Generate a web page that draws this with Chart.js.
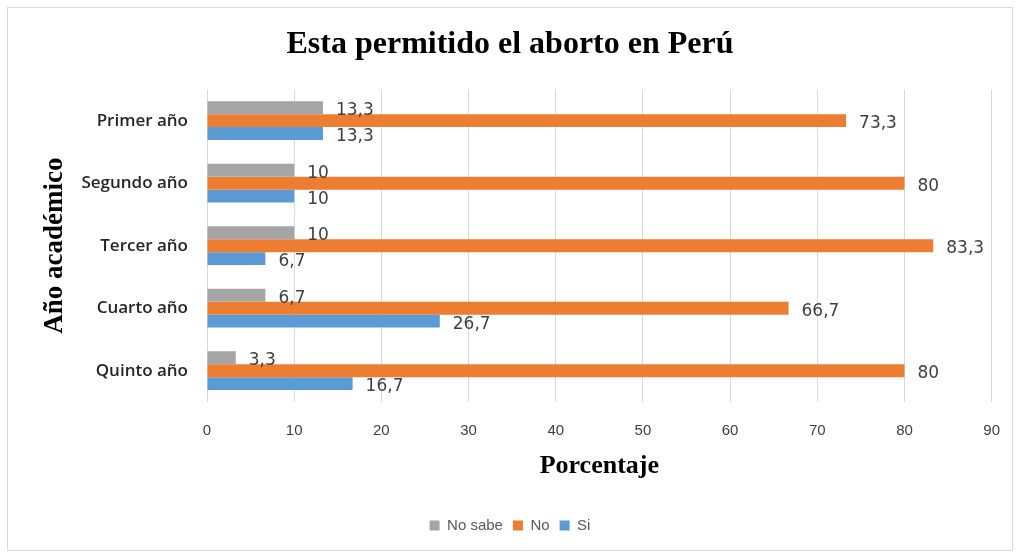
<!DOCTYPE html>
<html>
<head>
<meta charset="utf-8">
<script src="https://cdn.jsdelivr.net/npm/chart.js@4"></script>
<style>
  html, body { margin: 0; padding: 0; background: #fff; }
  #wrap { width: 1020px; height: 558px; }
</style>
</head>
<body>
<div id="wrap"><canvas id="myChart" width="1020" height="558"></canvas></div>
<script>
const categories = ['Primer año', 'Segundo año', 'Tercer año', 'Cuarto año', 'Quinto año'];
const noSabe = [13.3, 10, 10, 6.7, 3.3];
const no = [73.3, 80, 83.3, 66.7, 80];
const si = [13.3, 10, 6.7, 26.7, 16.7];
const xTicks = [0, 10, 20, 30, 40, 50, 60, 70, 80, 90];

const ctx = document.getElementById('myChart').getContext('2d');
const myChart = new Chart(ctx, {
    type: 'bar',
    data: {
        labels: categories,
        datasets: [
            { label: 'No sabe', data: noSabe, backgroundColor: '#A5A5A5' },
            { label: 'No', data: no, backgroundColor: '#ED7D31' },
            { label: 'Si', data: si, backgroundColor: '#5B9BD5' }
        ]
    },
    options: {
        indexAxis: 'y',
        responsive: false,
        animation: false,
        barPercentage: 1.0,
        categoryPercentage: 0.62,
        layout: {
            padding: { left: 27, right: 27, top: 0, bottom: 15 }
        },
        scales: {
            x: {
                min: 0,
                max: 90,
                afterBuildTicks: (scale) => {
                    scale.ticks = xTicks.map(v => ({ value: v }));
                },
                afterFit: (scale) => { scale.height = 106; },
                grid: { color: '#d9d9d9', drawTicks: false },
                border: { display: false },
                ticks: {
                    padding: 20,
                    color: '#404040',
                    font: { family: 'Liberation Sans', size: 15 }
                },
                title: {
                    display: true,
                    text: 'Porcentaje',
                    color: '#000',
                    padding: { top: 0, bottom: 26 },
                    font: { family: 'Liberation Serif', size: 26, weight: 'bold' }
                }
            },
            y: {
                afterFit: (scale) => { scale.width = 180; },
                grid: { display: false },
                border: { display: false },
                ticks: {
                    padding: 11,
                    color: '#262626',
                    font: { family: 'Open Sans', size: 17, weight: '600' }
                },
                title: {
                    display: true,
                    text: 'Año académico',
                    color: '#000',
                    padding: { top: 12, bottom: 0 },
                    font: { family: 'Liberation Serif', size: 27, weight: 'bold' }
                }
            }
        },
        plugins: {
            title: {
                display: true,
                text: 'Esta permitido el aborto en Perú',
                color: '#000',
                padding: { top: 26, bottom: 25 },
                font: { family: 'Liberation Serif', size: 32, weight: 'bold' }
            },
            legend: {
                position: 'bottom',
                labels: {
                    boxWidth: 10,
                    boxHeight: 10,
                    padding: 10,
                    color: '#595959',
                    font: { family: 'Liberation Sans', size: 15 }
                }
            },
            tooltip: { enabled: false }
        }
    },
    plugins: [{
        id: 'background-colour',
        beforeDraw: (chart) => {
            const c = chart.ctx;
            c.save();
            c.fillStyle = 'white';
            c.fillRect(0, 0, chart.width, chart.height);
            c.strokeStyle = '#d9d9d9';
            c.lineWidth = 1;
            c.strokeRect(7.5, 7.5, 1005, 543);
            c.restore();
        }
    }, {
        id: 'bar-values',
        afterDatasetsDraw: (chart) => {
            const c = chart.ctx;
            c.save();
            c.font = '17px "DejaVu Sans"';
            c.fillStyle = '#404040';
            c.textAlign = 'left';
            c.textBaseline = 'middle';
            chart.data.datasets.forEach((ds, i) => {
                chart.getDatasetMeta(i).data.forEach((bar, j) => {
                    const txt = String(ds.data[j]).replace('.', ',');
                    c.fillText(txt, bar.x + 13, bar.y + 3);
                });
            });
            c.restore();
        }
    }]
});
</script>
</body>
</html>
